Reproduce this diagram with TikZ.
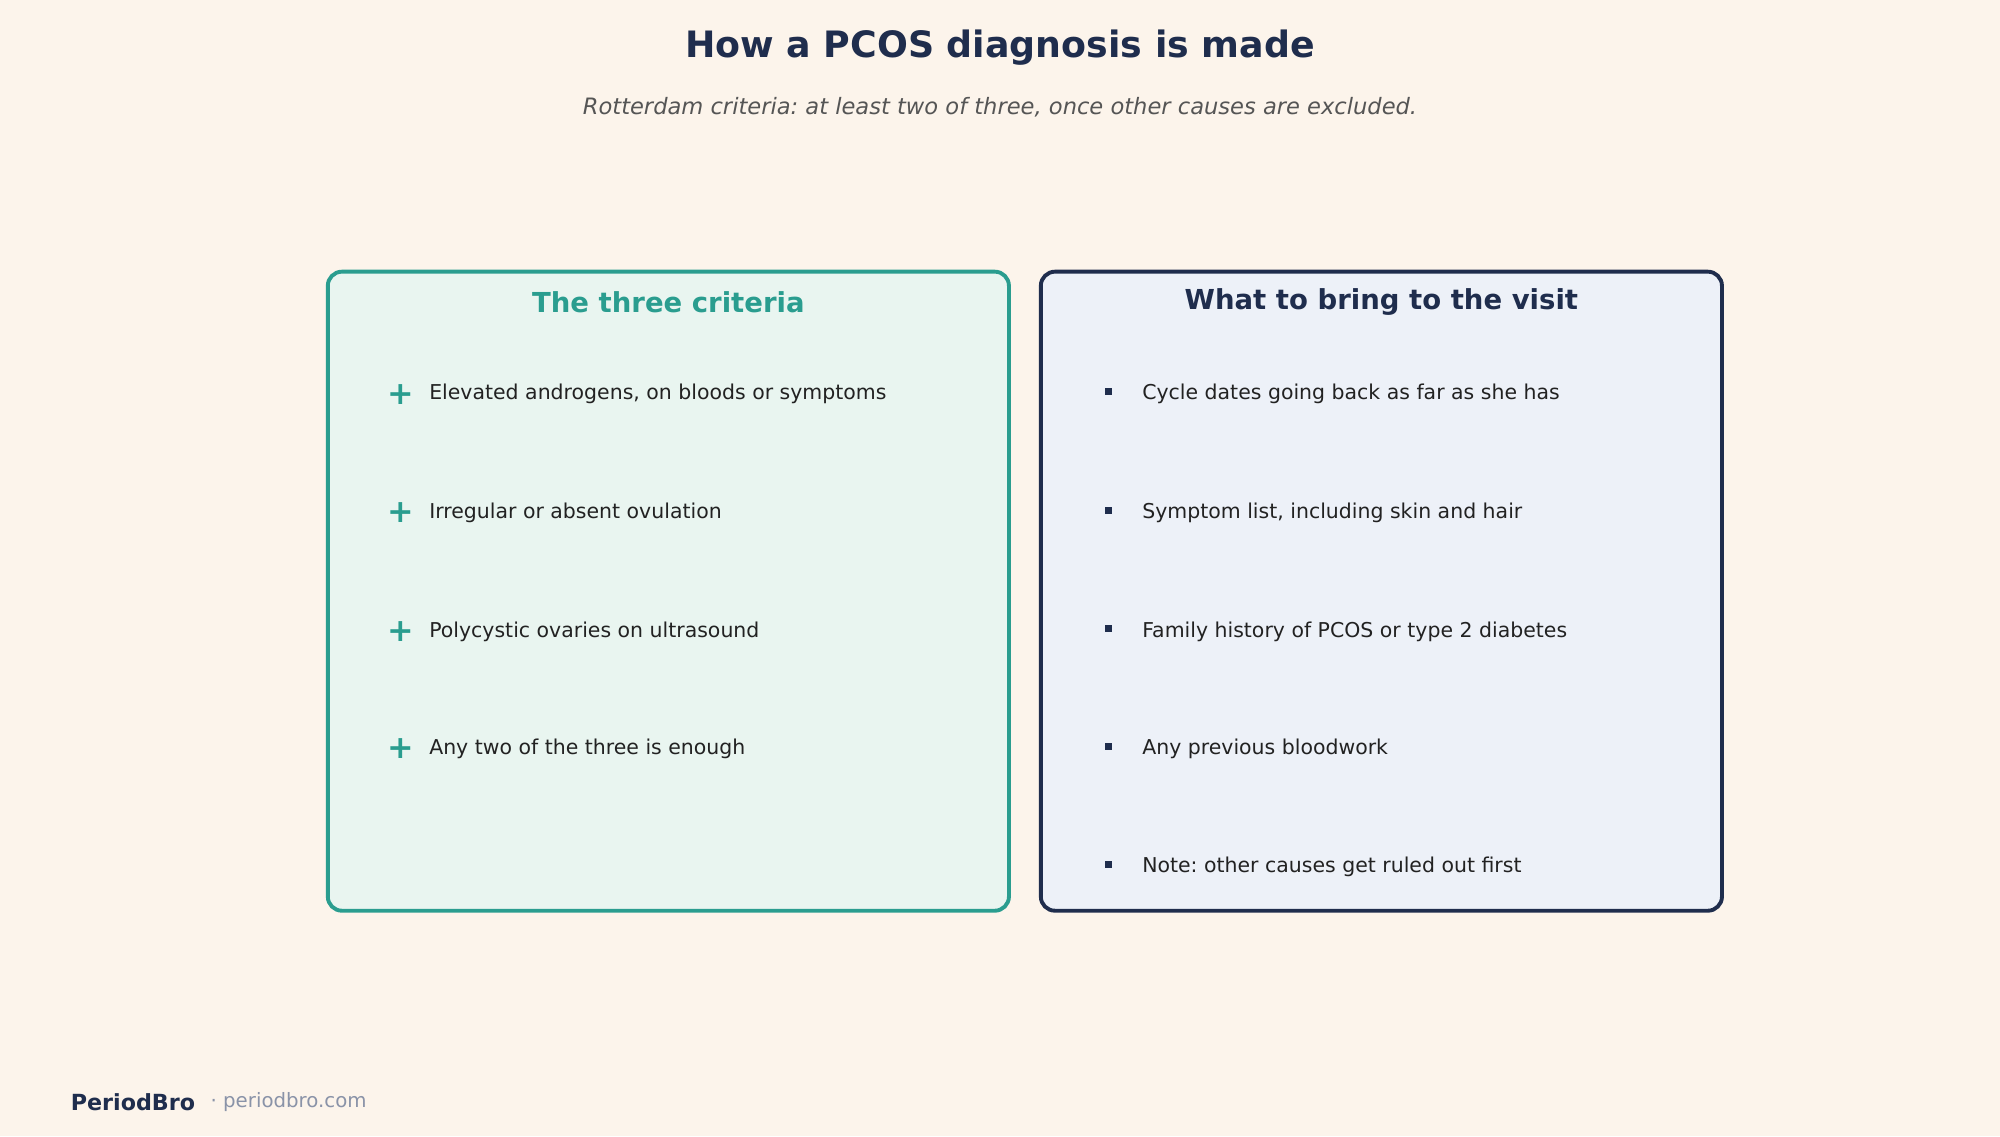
\documentclass[tikz,border=0pt]{standalone}
\usepackage{fontspec}
\setmainfont{DejaVu Sans}
\usetikzlibrary{positioning}
\frenchspacing
\definecolor{bgcol}{HTML}{FCF4EB}
\definecolor{teal}{HTML}{2A9D8F}
\definecolor{navy}{HTML}{1F2D4D}
\definecolor{tealfill}{HTML}{E9F5F0}
\definecolor{navyfill}{HTML}{EDF1F8}
\definecolor{itemtxt}{HTML}{222222}
\definecolor{subtxt}{HTML}{555555}
\definecolor{foottxt}{HTML}{8A93A8}
\tikzset{
  card/.style={rounded corners=4pt, line width=1.1pt},
  item/.style={anchor=west, text=itemtxt, font=\fontsize{5.8}{7}\selectfont, inner sep=0pt},
  bulletmark/.style={anchor=center, inner sep=0pt},
  head/.style={anchor=center, font=\bfseries\fontsize{7.8}{9}\selectfont}
}
\begin{document}
\begin{tikzpicture}[x=0.3616pt, y=-0.3616pt]
    \fill[bgcol] (0,0) rectangle (1568,891);
    \useasboundingbox (0,0) rectangle (1568,891);

    \node[font=\bfseries\fontsize{10.3}{12}\selectfont, text=navy] (title) at (784,37) {How a PCOS diagnosis is made};
    \node[font=\itshape\fontsize{6.4}{8}\selectfont, text=subtxt] (subtitle) at (784,84) {Rotterdam criteria: at least two of three, once other causes are excluded.};

    % left card
    \draw[card, draw=teal, fill=tealfill] (257,213) rectangle (791,714);
    \node[head, text=teal] (lhead) at (524,237) {The three criteria};
    \foreach \y/\t [count=\i] in {308/{Elevated androgens, on bloods or symptoms},
        401/{Irregular or absent ovulation},
        494/{Polycystic ovaries on ultrasound},
        586/{Any two of the three is enough}} {
        \node[bulletmark, text=teal, font=\bfseries\fontsize{9}{9}\selectfont] (lmark\i) at (314,\y+1) {+};
        \node[item] (litem\i) at (336,\y+1) {\t};
    }

    % right card
    \draw[card, draw=navy, fill=navyfill] (816,213) rectangle (1350,714);
    \node[head, text=navy] (rhead) at (1083,237) {What to bring to the visit};
    \foreach \y/\t [count=\i] in {308/{Cycle dates going back as far as she has},
        401/{Symptom list, including skin and hair},
        494/{Family history of PCOS or type 2 diabetes},
        586/{Any previous bloodwork},
        679/{Note: other causes get ruled out first}} {
        \node[bulletmark, fill=navy, minimum size=1.9pt] (rmark\i) at (869,\y-1) {};
        \node[item] (ritem\i) at (895,\y+1) {\t};
    }

    % footer
    \node[anchor=west, inner sep=0pt, text=navy, font=\bfseries\fontsize{6.3}{8}\selectfont] (brand) at (55,864) {PeriodBro};
    \node[anchor=west, inner sep=0pt, text=foottxt, font=\fontsize{5.6}{7}\selectfont, right=4pt of brand] (site) {· periodbro.com};
\end{tikzpicture}
\end{document}
